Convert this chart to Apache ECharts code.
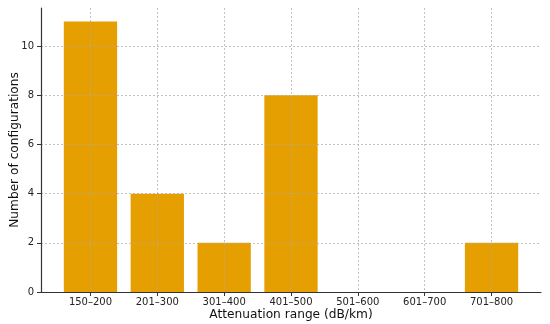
<!DOCTYPE html>
<html><head><meta charset="utf-8">
<script src="https://cdn.jsdelivr.net/npm/echarts@6/dist/echarts.min.js"></script>
<style>html,body{margin:0;padding:0;background:#fff}#c{width:550px;height:324px}</style>
</head><body><div id="c"></div>
<script>
const categories = ['150–200','201–300','301–400','401–500','501–600','601–700','701–800'];
const counts = [11, 4, 2, 8, 0, 0, 2];
const yTicks = [0, 2, 4, 6, 8, 10];
const xTitle = 'Attenuation range (dB/km)';
const yTitle = 'Number of configurations';

const idx = categories.map((_, i) => i);
const chart = echarts.init(document.getElementById('c'), null, {renderer: 'canvas'});
const font = 'DejaVu Sans';
const grid = {color: 'rgba(170,170,170,0.8)', type: [2, 2], width: 0.9};
chart.setOption({
  animation: false,
  grid: {left: 41, right: 9, top: 8, bottom: 32, containLabel: false, outerBoundsMode: 'none'},
  xAxis: {
    type: 'value', min: -0.74, max: 6.74, z: 5,
    axisLine: {show: true, onZero: false, lineStyle: {color: '#333', width: 1.2}},
    axisTick: {show: true, customValues: idx, length: 4, lineStyle: {color: '#333'}},
    axisLabel: {customValues: idx, formatter: v => categories[Math.round(v)], color: '#222', fontFamily: font, fontSize: 10, margin: 5},
    splitLine: {show: true, lineStyle: grid},
    name: xTitle, nameLocation: 'middle', nameGap: 16.5, nameMoveOverlap: false,
    nameTextStyle: {color: '#111', fontFamily: font, fontSize: 12.2, verticalAlign: 'top'}
  },
  yAxis: {
    type: 'value', min: 0, max: 11.55, z: 5,
    axisLine: {show: true, onZero: false, lineStyle: {color: '#333', width: 1.2}},
    axisTick: {show: true, customValues: yTicks, length: 4, lineStyle: {color: '#333'}},
    axisLabel: {customValues: yTicks, color: '#222', fontFamily: font, fontSize: 10, margin: 7},
    splitLine: {show: true, lineStyle: grid},
    name: yTitle, nameLocation: 'middle', nameGap: 20, nameRotate: 90, nameMoveOverlap: false,
    nameTextStyle: {color: '#111', fontFamily: font, fontSize: 12.2}
  },
  series: [{
    type: 'bar', z: 2,
    data: counts.map((c, i) => [i, c]),
    barWidth: 53.3,
    itemStyle: {color: '#E69F00'}
  }]
});
</script></body></html>
